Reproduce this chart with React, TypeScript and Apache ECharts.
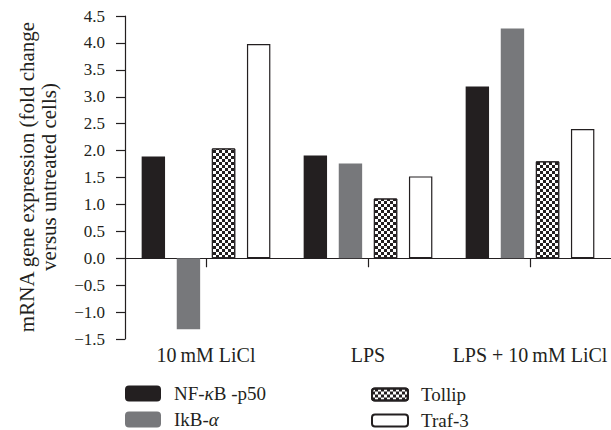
import React, { useEffect, useRef } from "react";
import * as echarts from "echarts";

const categories = ["10\u2009mM LiCl", "LPS", "LPS + 10\u2009mM LiCl"];
const seriesNames = ["NF-κB-p50", "IkB-α", "Tollip", "Traf-3"];
const nfkbValues = [1.89, 1.91, 3.19];
const ikbValues = [-1.32, 1.76, 4.27];
const tollipValues = [2.04, 1.11, 1.8];
const traf3Values = [3.98, 1.52, 2.4];
const yMin = -1.5;
const yMax = 4.5;
const yStep = 0.5;

const FONT = "Liberation Serif";
const INK = "#231f20";

export default function App() {
  const ref = useRef<HTMLDivElement>(null);
  useEffect(() => {
    if (!ref.current) return;
    const chart = echarts.init(ref.current, null, { renderer: "svg" });
    const decal = {
      symbol: "rect",
      symbolSize: 1,
      color: INK,
      dashArrayX: [
        [3, 3],
        [0, 3, 3, 0],
      ],
      dashArrayY: [3, 0],
      rotation: 0,
    };
    const legendBase = {
      orient: "vertical",
      padding: 0,
      itemWidth: 36,
      selectedMode: false,
      textStyle: {
        fontFamily: FONT,
        fontSize: 19,
        color: INK,
        padding: [0, 0, 0, 8],
        rich: {
          n: { fontFamily: FONT, fontSize: 19, lineHeight: 19, color: INK },
          i: { fontFamily: FONT, fontSize: 19, lineHeight: 19, color: INK, fontStyle: "italic" },
        },
      },
      formatter: (name: string) => {
        if (name === "NF-κB-p50") return "{n|NF-}{i|κ}{n|B -p50}";
        if (name === "IkB-α") return "{n|IkB-}{i|α}";
        return "{n|" + name + "}";
      },
    };
    chart.setOption({
      animation: false,
      grid: { left: 125, top: 16, width: 492, bottom: 91, containLabel: false },
      legend: [
        { ...legendBase, data: [seriesNames[0]], left: 125, top: 384, itemHeight: 16 },
        { ...legendBase, data: [seriesNames[1]], left: 125, top: 410, itemHeight: 16 },
        { ...legendBase, data: [seriesNames[2]], left: 371, top: 385, itemHeight: 12 },
        { ...legendBase, data: [seriesNames[3]], left: 371, top: 411, itemHeight: 12 },
      ],
      xAxis: [
        {
          type: "category",
          data: categories,
          position: "bottom",
          axisLine: { show: true, onZero: true, lineStyle: { color: INK, width: 1.2 } },
          axisTick: { show: true, alignWithLabel: true, length: 9, lineStyle: { color: INK, width: 1.2 } },
          axisLabel: { show: false },
          splitLine: { show: false },
        },
        {
          type: "category",
          data: categories,
          position: "bottom",
          axisLine: { show: false, onZero: false },
          axisTick: { show: false },
          axisLabel: {
            show: true,
            margin: 6,
            fontFamily: FONT,
            fontSize: 20,
            color: INK,
            interval: 0,
          },
          splitLine: { show: false },
        },
      ],
      yAxis: {
        type: "value",
        min: yMin,
        max: yMax,
        interval: yStep,
        axisLine: { show: true, lineStyle: { color: INK, width: 1.2 } },
        axisTick: { show: true, length: 9, lineStyle: { color: INK, width: 1.2 } },
        splitLine: { show: false },
        axisLabel: {
          margin: 20,
          fontFamily: FONT,
          fontSize: 17,
          color: INK,
          formatter: (v: number) => (v < 0 ? "\u2212" : "") + Math.abs(v).toFixed(1),
        },
      },
      graphic: [
        {
          type: "text",
          x: 38,
          y: 177,
          rotation: Math.PI / 2,
          style: {
            text: "mRNA gene expression (fold change\nversus untreated cells)",
            fontFamily: FONT,
            fontSize: 21,
            lineHeight: 22,
            fill: INK,
            align: "center",
            verticalAlign: "middle",
          },
        },
      ],
      series: [
        {
          name: seriesNames[0],
          type: "bar",
          data: nfkbValues,
          barWidth: 23.4,
          barGap: "50%",
          itemStyle: { color: INK },
        },
        {
          name: seriesNames[1],
          type: "bar",
          data: ikbValues,
          barWidth: 23.4,
          barGap: "50%",
          itemStyle: { color: "#77787b" },
        },
        {
          name: seriesNames[2],
          type: "bar",
          data: tollipValues,
          barWidth: 23.4,
          barGap: "50%",
          itemStyle: { color: "#ffffff", borderColor: INK, borderWidth: 1, decal },
        },
        {
          name: seriesNames[3],
          type: "bar",
          data: traf3Values,
          barWidth: 23.4,
          barGap: "50%",
          itemStyle: { color: "#ffffff", borderColor: INK, borderWidth: 1.2 },
        },
      ],
    });
    return () => chart.dispose();
  }, []);
  return (
    <div
      ref={ref}
      style={{ position: "absolute", left: 0, top: 0, width: 611, height: 430, background: "#fff" }}
    />
  );
}
